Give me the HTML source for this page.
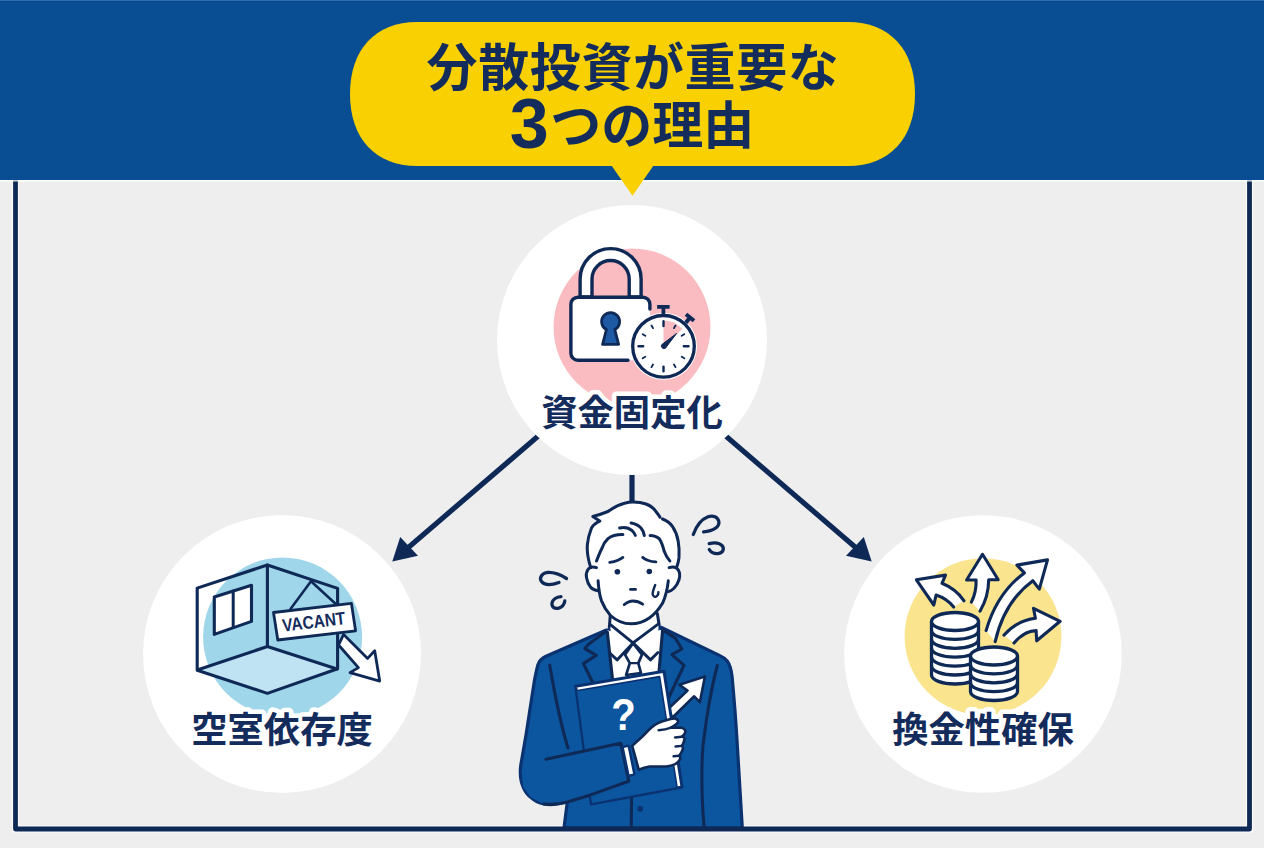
<!DOCTYPE html>
<html lang="ja">
<head>
<meta charset="utf-8">
<title>分散投資が重要な3つの理由</title>
<style>
html,body{margin:0;padding:0;background:#eeeeee;}
body{width:1264px;height:848px;overflow:hidden;position:relative;font-family:"Liberation Sans","Noto Sans CJK JP",sans-serif;}
svg{position:absolute;left:0;top:0;display:block;}
.t{font-family:"Liberation Sans","Noto Sans CJK JP",sans-serif;font-weight:700;fill:#142c5c;}
.ln{fill:none;stroke:#0f2957;stroke-linecap:round;stroke-linejoin:round;}
</style>
</head>
<body>
<svg width="1264" height="848" viewBox="0 0 1264 848">
  <!-- background -->
  <rect x="0" y="0" width="1264" height="848" fill="#eeeeee"/>
  <!-- frame halo -->
  <rect x="15.5" y="170" width="1234" height="659" fill="none" stroke="#ffffff" stroke-opacity="0.6" stroke-width="7.4"/>
<!--CONNECTORS-->
  <g id="connectors" stroke="#0f2957" stroke-width="5.2" fill="#0f2957">
    <line x1="632" y1="470" x2="632" y2="505" />
    <line x1="540" y1="434.5" x2="406" y2="549.5"/>
    <path d="M392.3 561.5 L400.2 537 L418 555.8 Z" stroke="none"/>
    <line x1="724" y1="434.5" x2="858" y2="549.5"/>
    <path d="M871.7 561.5 L863.8 537 L846 555.8 Z" stroke="none"/>
  </g>
<!--TOPCIRCLE-->
  <g id="top">
    <circle cx="632" cy="340" r="135" fill="#ffffff"/>
    <circle cx="632" cy="327" r="78.5" fill="#fabcc0"/>
    <!-- lock shackle -->
    <path d="M580.1 297 V279.1 A30.5 30.5 0 0 1 641.1 279.1 V297 H629.2 V279.1 A18.6 18.6 0 0 0 592 279.1 V297 Z" fill="#fff" stroke="#0f2957" stroke-width="3.4" stroke-linejoin="round"/>
    <!-- lock body -->
    <rect x="570.9" y="297.2" width="79" height="63" rx="7" fill="#fff"/>
    <path class="ln" stroke-width="3.4" d="M628 360.2 H577.9 A7 7 0 0 1 570.9 353.2 V304.2 A7 7 0 0 1 577.9 297.2 H642.9 A7 7 0 0 1 649.9 304.2 V309"/>
    <!-- keyhole -->
    <path d="M606.4 329.6 A9 9 0 1 1 614.8 329.6 L618.6 344.4 H602.6 Z" fill="#1e5aa3" stroke="#0f2957" stroke-width="2.8" stroke-linejoin="round"/>
    <!-- stopwatch -->
    <circle cx="663.5" cy="346.3" r="33.5" fill="#fff"/>
    <path class="ln" stroke-width="3.7" style="stroke-linecap:butt" d="M657.1 306.9 H669.6 M663.4 306.8 V315"/>
    <path class="ln" stroke-width="4" style="stroke-linecap:butt" d="M686 314.3 L694 320.8 M690 317.5 L685.8 322.8"/>
    <circle cx="663.5" cy="346.3" r="30.8" fill="#fff" stroke="#0f2957" stroke-width="3.3"/>
    <path d="M663.5 346.3 V320.6 A25.7 25.7 0 0 1 682.4 328.9 Z" fill="#fabcc0"/>
    <g class="ln" stroke-width="2.4">
      <path d="M663.5 321.3 V326 M688.5 346.3 H683.8 M663.5 371.3 V366.6 M638.5 346.3 H643.2"/>
    </g>
    <g class="ln" stroke-width="1.9">
      <path d="M675.5 325.5 L674 328.1 M684.3 334.3 L681.7 335.8 M684.3 358.3 L681.7 356.8 M675.5 367.1 L674 364.5 M651.5 367.1 L653 364.5 M642.7 358.3 L645.3 356.8 M642.7 334.3 L645.3 335.8 M651.5 325.5 L653 328.1"/>
    </g>
    <path d="M661.8 344.6 L676.6 333.4 L665.4 348.2 A2.6 2.6 0 0 1 661.8 344.6 Z" fill="#0f2957" stroke="#0f2957" stroke-width="1" stroke-linejoin="round"/>
    <text class="t" x="632" y="426.2" font-size="36.3" text-anchor="middle" stroke="#fff" stroke-width="9" stroke-linejoin="round" paint-order="stroke" style="paint-order:stroke">資金固定化</text>
  </g>
<!--LEFTCIRCLE-->
  <g id="left">
    <circle cx="282" cy="654" r="139" fill="#ffffff"/>
    <circle cx="282.6" cy="637" r="79.5" fill="#a0d6ea"/>
    <!-- floor -->
    <path d="M198 669.8 L267.4 646.5 L337 669 L267.4 693.2 Z" fill="#c0e3f3"/>
    <!-- window -->
    <path d="M214.3 597.1 L251.5 585.3 V621.4 L214.3 634.4 Z" fill="#fff" stroke="#0f2957" stroke-width="3.1" stroke-linejoin="round"/>
    <path class="ln" stroke-width="3" d="M233.2 591.1 V627.6"/>
    <!-- room -->
    <g class="ln" stroke-width="3.1">
      <path d="M197.2 588.1 L267.4 565 L337.6 588.4 V668.8 L267.4 693.4 L197.2 670.3 Z"/>
      <path d="M267.4 565 V646.3"/>
      <path d="M267.4 646.5 L198 669.8 M267.4 646.5 L337 669"/>
    </g>
    <!-- strings -->
    <path class="ln" stroke-width="2.6" d="M290.5 609 L311 581.3 L335.8 604"/>
    <!-- arrow -->
    <path d="M343.6 634.4 L367.6 658.4 L374.7 650.7 L379.7 681.1 L350 672.6 L358.4 667.6 L338.6 645 Z" fill="#fff" stroke="#0f2957" stroke-width="2.8" stroke-linejoin="round"/>
    <!-- sign -->
    <path d="M273.5 612.5 L351.4 603.3 L355.6 630.8 L277.8 640 Z" fill="#fff" stroke="#0f2957" stroke-width="2.8" stroke-linejoin="round"/>
    <text class="t" transform="translate(314.5 627.9) rotate(-6.8)" x="0" y="0" font-size="18" text-anchor="middle" textLength="63.5" lengthAdjust="spacingAndGlyphs" fill="#0f2957">VACANT</text>
    <text class="t" x="282" y="743.2" font-size="36.3" text-anchor="middle" stroke="#fff" stroke-width="9" stroke-linejoin="round" style="paint-order:stroke">空室依存度</text>
  </g>
<!--RIGHTCIRCLE-->
  <g id="right">
    <circle cx="983" cy="654" r="138.8" fill="#ffffff"/>
    <circle cx="983" cy="636.6" r="78.4" fill="#fae48e"/>
    <!-- arrows -->
    <g fill="#fff" stroke="none">
      <path d="M916.4 579.8 L945.5 575.1 L942 583.3 Q956 589 964 600.8 L953.7 607 Q947 598.5 936.1 595 L933.8 605 Z"/>
      <path d="M982.5 554.3 L998.2 579.8 H988.7 Q988.5 597 980 611.2 L971.4 602.1 Q976.5 592 976.1 580 H966.6 Z"/>
      <path d="M1047.5 559.9 L1039.3 589.1 L1032.8 580.7 Q1004 602 995.2 641.7 L986.1 630.6 Q997 593 1024.4 572.9 L1016.9 565.1 Z"/>
      <path d="M1060.1 621.3 L1036.7 640.8 L1036.1 630.6 Q1024 631 1014 643 L1003.9 635.2 Q1017 620.5 1035.4 618.3 L1033.5 608.3 Z"/>
    </g>
    <g class="ln" stroke-width="3.1">
      <path d="M964 600.8 Q956 589 942 583.3 L945.5 575.1 L916.4 579.8 L933.8 605 L936.1 595 Q947 598.5 953.7 607"/>
      <path d="M971.4 602.1 Q976.5 592 976.1 580 H966.6 L982.5 554.3 L998.2 579.8 H988.7 Q988.5 597 980 611.2"/>
      <path d="M986.1 630.6 Q997 593 1024.4 572.9 L1016.9 565.1 L1047.5 559.9 L1039.3 589.1 L1032.8 580.7 Q1004 602 995.2 641.7"/>
      <path d="M1003.9 635.2 Q1017 620.5 1035.4 618.3 L1033.5 608.3 L1060.1 621.3 L1036.7 640.8 L1036.1 630.6 Q1024 631 1014 643"/>
    </g>
    <!-- coin stack 1 -->
    <g id="c1">
      <path d="M931.5 621.5 V675 A23.5 9 0 0 0 978.5 675 V621.5 Z" fill="#fff"/>
      <g class="ln" stroke-width="3.3">
        <path d="M931.5 621.5 V675 A23.5 9 0 0 0 978.5 675 V621.5"/>
        <ellipse cx="955" cy="621.5" rx="23.5" ry="9" fill="#fff"/>
        <path d="M931.5 630.4 A23.5 9 0 0 0 978.5 630.4 M931.5 639.3 A23.5 9 0 0 0 978.5 639.3 M931.5 648.2 A23.5 9 0 0 0 978.5 648.2 M931.5 657.1 A23.5 9 0 0 0 978.5 657.1 M931.5 666 A23.5 9 0 0 0 978.5 666"/>
      </g>
    </g>
    <!-- coin stack 2 -->
    <g id="c2">
      <path d="M970.5 656 V691.5 A23.5 9 0 0 0 1017.5 691.5 V656 Z" fill="#fff"/>
      <g class="ln" stroke-width="3.3">
        <path d="M970.5 656 V691.5 A23.5 9 0 0 0 1017.5 691.5 V656"/>
        <ellipse cx="994" cy="656" rx="23.5" ry="9" fill="#fff"/>
        <path d="M970.5 664.9 A23.5 9 0 0 0 1017.5 664.9 M970.5 673.8 A23.5 9 0 0 0 1017.5 673.8 M970.5 682.7 A23.5 9 0 0 0 1017.5 682.7"/>
      </g>
    </g>
    <text class="t" x="983" y="743.2" font-size="36.3" text-anchor="middle" stroke="#fff" stroke-width="9" stroke-linejoin="round" style="paint-order:stroke">換金性確保</text>
  </g>
<!--PERSON-->
  <g id="person">
    <!-- suit silhouette -->
    <path d="M606.4 630 L546 656.3 C541.5 658.5 539.5 660.5 538 664.5 C536.5 670 535.5 675 534.5 680 L526 735 L520.8 765 C519.8 773 520.5 781 523.2 787.1 C525 791.5 527.5 795 531 797.5 C535 801 539 803 543.9 804 C548 804.8 552.5 804.8 556.9 804 L567.3 802 L564 828 L742.3 828 L737 740 C735.5 715 733.8 695 732.1 676.6 C731.2 669 729.8 664.5 727.2 661 C725 658.3 722.5 656.8 719.4 655.4 L661 627.3 Z" fill="#0c559f" stroke="#0a3270" stroke-width="3.2" stroke-linejoin="round"/>
    <!-- shirt -->
    <path d="M607.3 630 L612.8 690 L659 690 L662.8 629 L634 640 Z" fill="#fff"/>
    <!-- neck -->
    <path d="M610.3 612 L609.3 628 L633.7 644 L659.3 625 L657.3 610 Z" fill="#fff"/>
    <path class="ln" stroke-width="3" d="M610.3 615 L609.3 627.5 M657.3 613.5 L659.2 625"/>
    <!-- tie -->
    <path d="M633 643.2 L625 654.6 L629.8 663.1 L626.1 675 L641 673 L638.3 663.1 L642 654.6 Z" fill="#fff" stroke="#0f2957" stroke-width="2.7" stroke-linejoin="round"/>
    <path class="ln" stroke-width="2.4" d="M629.8 663.1 H638.3"/>
    <!-- collar -->
    <path d="M610.7 624.9 L633 642.9 L617.1 659.9 L610.2 653.5" fill="#fff" stroke="#0f2957" stroke-width="2.9" stroke-linejoin="round" stroke-linecap="round"/>
    <path d="M658.5 623.8 L633 642.9 L650.5 659.9 L657.9 652.5" fill="#fff" stroke="#0f2957" stroke-width="2.9" stroke-linejoin="round" stroke-linecap="round"/>
    <!-- lapels -->
    <g class="ln" stroke="#0a3270" stroke-width="3.1">
      <path d="M607.3 632 L612.8 682"/>
      <path d="M662.6 630 L659 672"/>
      <path d="M605.5 631.8 L588.5 644.3 L584.8 648.6 L596.4 655.3 L583.4 663.6 L592.5 682"/>
      <path d="M661.9 629.1 L675.5 638.4 L681.9 649 L671.9 654.7 L684 665.3 L668.5 698"/>
      <path d="M549.8 665.4 C554 690 560 722 568 748"/>
      <path d="M717.3 665.5 C713.5 680 709.5 700 706.6 719 L703 745 C701.5 765 701 790 704 826"/>
      <path d="M631.5 798 L631.3 826"/>
    </g>
    <circle cx="640.2" cy="808.8" r="2.9" fill="#0a3270"/>
    <!-- up arrow (white) -->
    <path d="M704.9 676.5 L699.9 702.1 L694.2 696.3 L672.5 717.5 L667.5 709.5 L687.5 690.6 L679.3 684.8 Z" fill="#fff" stroke="#0f2957" stroke-width="2.6" stroke-linejoin="round"/>
    <!-- book -->
    <path d="M575.7 686.3 L664 671.3 L682 787 L591.3 804 Z" fill="#fff" stroke="#0a3270" stroke-width="3" stroke-linejoin="round"/>
    <path d="M576.3 690.8 L659.6 676.6 L677.2 787.9 L591.3 804 Z" fill="#0c559f" stroke="#0a3270" stroke-width="1.6" stroke-linejoin="round"/>
    <text x="623.6" y="730.2" font-size="45" font-weight="700" text-anchor="middle" fill="#fff" font-family="'Liberation Sans',sans-serif" textLength="24.5" lengthAdjust="spacingAndGlyphs">?</text>
    <!-- forearm -->
    <path d="M545.9 759.2 L621.8 743 L630.2 781 L590.6 794.9 L567.3 802 L556.9 804 L543.9 804 L531 797.5 L523.2 787.1 L521.5 770 L527 758 Z" fill="#0c559f"/>
    <path class="ln" stroke="#0a3270" stroke-width="3.1" d="M545.9 759.2 L620.6 743.2 M543.9 804 C552 805 560 804 567.3 802 L590.6 794.9 L628.6 781.2 M620.8 743.2 L628.8 781.2"/>
    <!-- cuff -->
    <path d="M622.6 747.2 L628.6 745.6 L634.4 774.3 L628.6 776 Z" fill="#fff" stroke="#0a3270" stroke-width="2.4" stroke-linejoin="round"/>
    <!-- hand -->
    <path d="M632.2 745.9 C636 742 638.5 740 641.3 737.6 C645 734 648 730.5 651.2 727.7 C656 723.5 661 721.5 666.1 720.3 C669 719.3 672.5 718.3 675.2 718.6 C678.5 719.2 678.8 722.3 676.8 723.6 C675 725.3 673 726.5 671 727.7 L680.5 727.5 C684 727.7 686.3 730.5 685.1 732.7 C684.3 734.7 683 735.8 681.8 736.8 C684.5 737 685 738.5 684.2 740.3 C683.8 742.5 683 744.3 681.8 745.9 C683 747 683.2 748.2 682.6 749.8 C681.8 752 680.6 754 679.3 755.8 C680.3 756.8 680.5 758 680.1 759.1 C679 761.5 677.3 763 675.2 764.1 C672 765.5 669 766.2 666.1 766.5 L649.6 766.5 C646 767 642 768.3 638.8 769.8 Z" fill="#fff" stroke="#0f2957" stroke-width="2.6" stroke-linejoin="round"/>
    <path class="ln" stroke-width="2.4" d="M671 727.7 C667 729.3 663 730 658.6 730.2 M681.8 736.8 L675 737.5 M681.8 745.9 L675.5 746.5 M679.3 755.8 L673.5 756.3"/>
    <!-- head (hair + face) fill -->
    <path d="M590.7 567.6 C588.3 560 586.7 552 587.4 544.5 C588 538 589.5 533 591.5 528 C593.5 524.5 596.5 522.5 599.8 521.1 L592.8 516.5 C598 515.2 603 513.5 608 511.5 C613 508 618 505 624.5 503.3 C628 502.3 630 502 632.8 502 C638 502 642 502.5 646 504 C650 505.5 653.5 508 655.9 511.5 C657.5 513.5 659 515.5 660 517.3 L662.5 519 C666.5 520.5 670 523 672.4 526.4 C675.5 531 677.3 536 678.2 541.2 C679.2 547 679.4 552 679 557.7 C678.6 561.5 677.7 564.5 676.5 567.6 C679 568 680.3 571 680 575 C679.6 580 678 585 674 588.3 C672 590 670 591 668.3 591.6 C667 596 665 600 662.5 603.3 C659 609 654.5 614.5 649.3 618 C644 621.7 637.5 623.8 631.1 623.8 C623 623.8 616 620.5 610.5 615.5 C606.5 611 603.5 606 601.4 600.6 C600 597.5 599 594.5 598.1 590.7 C595.5 590.3 592.8 589.3 590.7 587.4 C587.8 584.8 586.3 581 586.3 577 C586.3 573 587.5 569.5 590.7 567.6 Z" fill="#fff"/>
    <g class="ln" stroke-width="3">
      <!-- hair outline -->
      <path d="M590.7 567.6 C588.3 560 586.7 552 587.4 544.5 C588 538 589.5 533 591.5 528 C593.5 524.5 596.5 522.5 599.8 521.1 L592.8 516.5 C598 515.2 603 513.5 608 511.5 C613 508 618 505 624.5 503.3 C628 502.3 630 502 632.8 502 C638 502 642 502.5 646 504 C650 505.5 653.5 508 655.9 511.5 C657.5 513.5 659 515.5 660 517.3"/>
      <path d="M662.5 519 C666.5 520.5 670 523 672.4 526.4 C675.5 531 677.3 536 678.2 541.2 C679.2 547 679.4 552 679 557.7 C678.6 561.5 677.7 564.5 676.5 567.6"/>
      <!-- fringe -->
      <path d="M596.5 561 C598.5 556 600 552 602.2 547.8 C603.5 544 605.5 541 608 538.7 C612 535.5 617 534.5 622.9 534.6"/>
      <path d="M619.6 528 C624 527 629 528 632 530.5 C633.5 532 634.7 533.5 635.3 535.4"/>
      <path d="M631.1 523 C635 523.5 638.5 525.5 641 528 C642.7 530 643.8 532.5 644.3 535.4"/>
      <path d="M650.1 535.4 C653.5 535.4 656.8 536.5 659.2 538.7 C661.5 542 663 546.5 664.1 551.1 C665.5 555 667.5 558.5 669.9 561"/>
      <!-- ears -->
      <path d="M596.5 567.6 C593 566.5 589.5 567 587.8 569.8 C586.2 572.5 586 575.5 586.6 578 C587.3 582 588.8 585 590.7 587.4 C592.8 589.5 595.5 590.5 598.1 590.7"/>
      <path d="M669.1 567.6 C672.5 566.5 676.3 567 678.2 569.8 C680 573 680 576.5 679 579.8 C678 583 676.3 586 674 588.3 C672.3 590 670.3 591.2 668.3 591.6"/>
      <!-- jaw -->
      <path d="M598.1 580.8 C598.6 588 599.5 595 601.4 600.6 C603.5 606 606.5 611 610.5 615.5 C616 620.5 623 623.8 631.1 623.8 C637.5 623.8 644 621.7 649.3 618 C654.5 614.5 659 609 662.5 603.3 C665.8 596 667.5 588.5 668.3 580.8"/>
    </g>
    <!-- face details -->
    <g class="ln" stroke-width="2.8">
      <path d="M609.7 562.3 C613 562 615.5 561.3 617.9 560.2 C620 559.3 621.5 558.5 622.9 557.4"/>
      <path d="M642.7 557.4 C644 558.5 645.8 559.5 647.6 560.2 C650.3 561.2 653 561.8 655.9 561.9"/>
      <path d="M630.5 589.4 H635.5"/>
      <path d="M624.2 604.6 C627 602.5 630 601 632.8 601 C636.5 601 640 602.3 642.7 604.2"/>
      <path stroke-width="2.4" d="M655.2 585 C654 588 652.8 591 652.6 594 C652.8 597 655.5 597.5 657 596 C658.2 594.8 658.5 593.5 658.4 592.2"/>
    </g>
    <circle cx="617.4" cy="571.8" r="2.8" fill="#0f2957"/>
    <circle cx="649.3" cy="571.5" r="2.8" fill="#0f2957"/>
    <!-- sweat marks -->
    <g class="ln" stroke-width="3.3">
      <path d="M693.3 534.5 C696 527 701 519.5 708 516.8 C713 515 718 517 718.9 521.8 C719.5 527 713.5 531 703.6 531.8"/>
      <path d="M709.2 543.6 C714 542.3 719.5 542.8 722.3 545.8 C724.6 549 722.8 553 718.2 553.5 C714.2 553.8 711 552.2 709.3 549.6"/>
      <path d="M566.5 578.5 C561 575 554 572 547 572.5 C541.5 573.5 539 578 541.5 581.5 C544.5 585.5 552 585 559 582.5"/>
      <path d="M561 596.6 C556.5 596.8 552.8 599.5 552 603 C551.5 607 554.5 608.8 558 608.3 C561.5 607.5 564.3 604.5 564.8 601"/>
    </g>
  </g>
  <!-- frame -->
  <rect x="15.5" y="170" width="1234" height="659" fill="none" stroke="#0f2957" stroke-width="4.8" stroke-linejoin="round"/>
  <!-- header band -->
  <rect x="0" y="179" width="1264" height="2.6" fill="#ffffff" fill-opacity="0.75"/>
  <rect x="0" y="0" width="1264" height="180" fill="#094d93"/>
  <rect x="0" y="0" width="1264" height="1" fill="#2d6db0"/>
  <rect x="0" y="1" width="1264" height="1.2" fill="#07468a"/>
  <!-- title bubble -->
  <g id="bubble">
    <path d="M609 162 L632.5 195.8 L656 162 Z" fill="#f9d102"/>
    <path d="M417 22 H848 C889.5 22 915 49.4 915 94 C915 138.6 889.5 166 848 166 H417 C375.5 166 350 138.6 350 94 C350 49.4 375.5 22 417 22 Z" fill="#f9d102"/>
    <text class="t" x="633" y="85.5" font-size="51" text-anchor="middle" letter-spacing="0.6">分散投資が重要な</text>
    <text class="t" x="632" y="148" font-size="51" text-anchor="middle"><tspan font-size="70">3</tspan><tspan dx="1.5" dy="-4.5">つの理由</tspan></text>
  </g>
</svg>
</body>
</html>
